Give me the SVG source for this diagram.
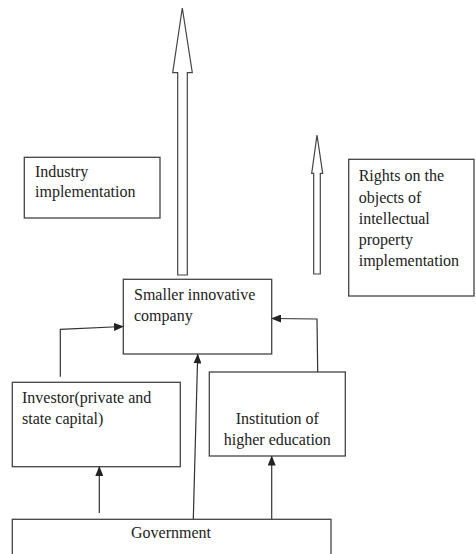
<svg xmlns="http://www.w3.org/2000/svg" width="476" height="554" viewBox="0 0 476 554">
<style>
.box{fill:#fff;stroke:#444;stroke-width:1.3}
.t{font-family:'Liberation Serif',Tinos,'Times New Roman',Times,'DejaVu Serif',serif;font-size:16px;fill:#222}
.c{fill:none;stroke:#333;stroke-width:1.2}
.big{fill:#fff;stroke:#444;stroke-width:1.2}
</style>
<defs>
<marker id="ah" markerWidth="10" markerHeight="8" refX="9" refY="4" orient="auto" markerUnits="userSpaceOnUse">
<path d="M0,0 L10,4 L0,8 Z" fill="#222"/>
</marker>
</defs>
<rect width="476" height="554" fill="#fff"/>
<g id="arrow-big">
<path class="big" d="M182.3,8 L192.3,72.7 L187.3,72.7 L187.3,275 L177.7,275 L177.7,72.7 L172.7,72.7 Z"/>
</g>
<g id="arrow-small">
<path class="big" d="M317,135 L322.7,173.3 L320.3,173.3 L320.3,274 L313.7,274 L313.7,173.3 L311.7,173.3 Z"/>
</g>
<g id="industry">
<rect class="box" x="24.3" y="157.3" width="135.7" height="60.7"/>
<text class="t" x="35" y="177" font-family="Liberation Serif, serif">Industry</text>
<text class="t" x="35" y="197" font-family="Liberation Serif, serif">implementation</text>
</g>
<g id="rights">
<rect class="box" x="348.7" y="159.3" width="125.3" height="136.7"/>
<text class="t" x="358.7" y="181">Rights on the</text>
<text class="t" x="358.7" y="202.5">objects of</text>
<text class="t" x="358.7" y="223.5">intellectual</text>
<text class="t" x="358.7" y="244.5">property</text>
<text class="t" x="358.7" y="266">implementation</text>
</g>
<g id="company">
<rect class="box" x="123.3" y="279.3" width="148.4" height="74.7"/>
<text class="t" x="134" y="300">Smaller innovative</text>
<text class="t" x="134" y="321">company</text>
</g>
<g id="investor">
<rect class="box" x="12.3" y="382.3" width="168" height="84.4"/>
<text class="t" x="22" y="403">Investor(private and</text>
<text class="t" x="22" y="424">state capital)</text>
</g>
<g id="institution">
<rect class="box" x="209.3" y="372" width="136" height="84"/>
<text class="t" x="277.3" y="424" text-anchor="middle">Institution of</text>
<text class="t" x="277.3" y="445" text-anchor="middle">higher education</text>
</g>
<g id="government">
<rect class="box" x="12.3" y="519.3" width="318.7" height="40"/>
<text class="t" x="171" y="538" text-anchor="middle">Government</text>
</g>
<g id="connectors">
<path class="c" d="M60.3,376.7 L60.3,329.3 L123,326.5" marker-end="url(#ah)"/>
<path class="c" d="M317.7,372 L317,319 L272,318.5" marker-end="url(#ah)"/>
<path class="c" d="M99.3,513 L99.3,467" marker-end="url(#ah)"/>
<path class="c" d="M193.3,519 L197.7,354.5" marker-end="url(#ah)"/>
<path class="c" d="M271.7,519 L271.7,456.5" marker-end="url(#ah)"/>
</g>
</svg>
